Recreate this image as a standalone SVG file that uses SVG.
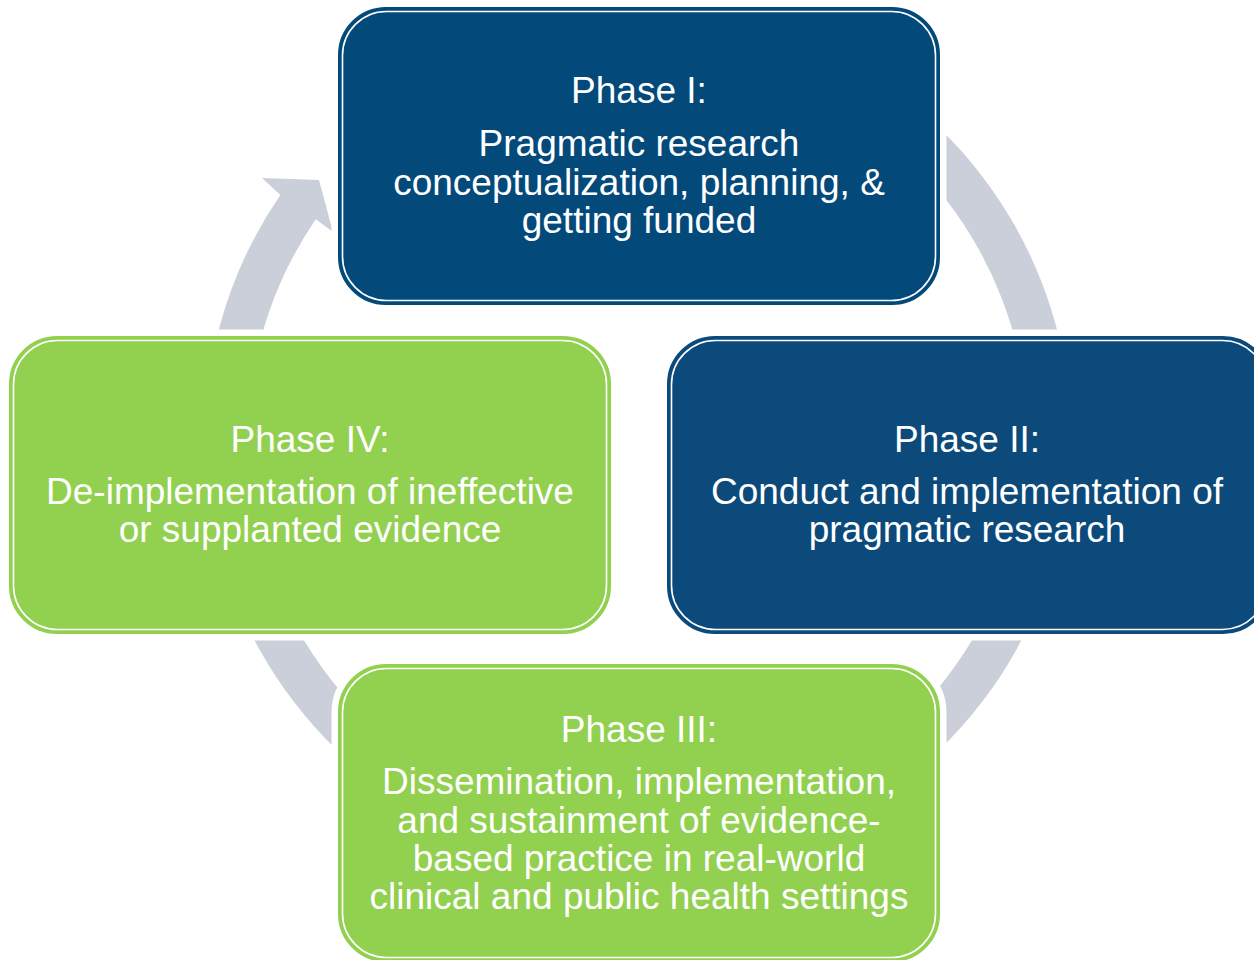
<svg xmlns="http://www.w3.org/2000/svg" width="1254" height="960" viewBox="0 0 1254 960">
<style>
.arc{fill:#cacfd9;stroke:none}
.halo{fill:none;stroke:#ffffff;stroke-width:15}
.blue{fill:#034a7b;stroke:#034a7b;stroke-width:2}
.blue2{fill:#0b4a7b;stroke:#0b4a7b;stroke-width:2}
.green{fill:#92d050;stroke:#92d050;stroke-width:2}
.inner{fill:none;stroke:#ffffff;stroke-width:1.6}
text{font-family:"Liberation Sans",Arial,sans-serif;font-size:37px;fill:#ffffff;text-anchor:middle}
</style>
<rect width="1254" height="960" fill="#ffffff"/>
<g id="connectors">
<path class="arc" d="M 786.1,32.1 A 433 433 0 0 1 1069.4,401.3 L 1026.5,405 A 390 390 0 0 0 771.4,72.5 Z"/>
<path class="arc" d="M 1069.4,476.7 A 433 433 0 0 1 786.1,845.9 L 771.4,805.5 A 390 390 0 0 0 1026.5,473 Z"/>
<path class="arc" d="M 489.9,845.9 A 433 433 0 0 1 206.6,476.7 L 249.5,473 A 390 390 0 0 0 504.6,805.5 Z"/>
<path class="arc" d="M 206.6,401.3 A 433 433 0 0 1 280.3,195 L 262,178 L 319,180 L 333,232 L 315.8,219.2 A 390 390 0 0 0 249.5,405 Z"/>
</g>
<g id="phase1">
<rect class="halo" x="339" y="8" width="600" height="296" rx="47"/>
<rect class="blue" x="339" y="8" width="600" height="296" rx="47"/>
<rect class="inner" x="342.5" y="11.5" width="593" height="289" rx="44"/>
<text x="639" y="103">Phase I:</text>
<text x="639" y="156">Pragmatic research</text>
<text x="639" y="195">conceptualization, planning, &amp;</text>
<text x="639" y="233">getting funded</text>
</g>
<g id="phase2">
<rect class="halo" x="668" y="337" width="602" height="296" rx="47"/>
<rect class="blue2" x="668" y="337" width="602" height="296" rx="47"/>
<rect class="inner" x="671.5" y="340.5" width="595" height="289" rx="44"/>
<text x="967" y="452">Phase II:</text>
<text x="967" y="504">Conduct and implementation of</text>
<text x="967" y="542">pragmatic research</text>
</g>
<g id="phase3">
<rect class="halo" x="339" y="665" width="600" height="296" rx="47"/>
<rect class="green" x="339" y="665" width="600" height="296" rx="47"/>
<rect class="inner" x="342.5" y="668.5" width="593" height="289" rx="44"/>
<text x="639" y="742">Phase III:</text>
<text x="639" y="794">Dissemination, implementation,</text>
<text x="639" y="833">and sustainment of evidence-</text>
<text x="639" y="871">based practice in real-world</text>
<text x="639" y="909">clinical and public health settings</text>
</g>
<g id="phase4">
<rect class="halo" x="10" y="337" width="600" height="296" rx="47"/>
<rect class="green" x="10" y="337" width="600" height="296" rx="47"/>
<rect class="inner" x="13.5" y="340.5" width="593" height="289" rx="44"/>
<text x="310" y="452">Phase IV:</text>
<text x="310" y="504">De-implementation of ineffective</text>
<text x="310" y="542">or supplanted evidence</text>
</g>
</svg>
